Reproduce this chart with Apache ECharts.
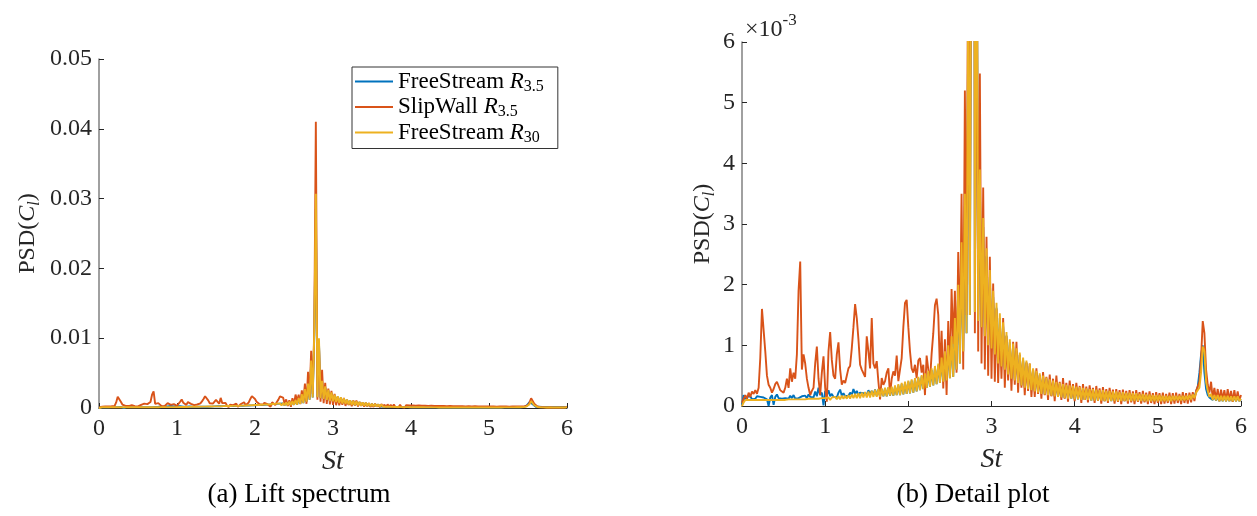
<!DOCTYPE html>
<html>
<head>
<meta charset="utf-8">
<title>PSD(Cl)</title>
<script src="https://cdn.jsdelivr.net/npm/echarts@6/dist/echarts.min.js"></script>
<style>
    html, body { margin: 0; padding: 0; background: #fff; }
    #echarts-psd-chart { width: 1257px; height: 516px; }
</style>
</head>
<body>
<div id="echarts-psd-chart"></div>
<script>
// Strouhal number grid (step 0.02)
var st = [
    0.00,0.02,0.04,0.06,0.08,0.10,0.12,0.14,0.16,0.18,
    0.20,0.22,0.24,0.26,0.28,0.30,0.32,0.34,0.36,0.38,
    0.40,0.42,0.44,0.46,0.48,0.50,0.52,0.54,0.56,0.58,
    0.60,0.62,0.64,0.66,0.68,0.70,0.72,0.74,0.76,0.78,
    0.80,0.82,0.84,0.86,0.88,0.90,0.92,0.94,0.96,0.98,
    1.00,1.02,1.04,1.06,1.08,1.10,1.12,1.14,1.16,1.18,
    1.20,1.22,1.24,1.26,1.28,1.30,1.32,1.34,1.36,1.38,
    1.40,1.42,1.44,1.46,1.48,1.50,1.52,1.54,1.56,1.58,
    1.60,1.62,1.64,1.66,1.68,1.70,1.72,1.74,1.76,1.78,
    1.80,1.82,1.84,1.86,1.88,1.90,1.92,1.94,1.96,1.98,
    2.00,2.02,2.04,2.06,2.08,2.10,2.12,2.14,2.16,2.18,
    2.20,2.22,2.24,2.26,2.28,2.30,2.32,2.34,2.36,2.38,
    2.40,2.42,2.44,2.46,2.48,2.50,2.52,2.54,2.56,2.58,
    2.60,2.62,2.64,2.66,2.68,2.70,2.72,2.74,2.76,2.78,
    2.80,2.82,2.84,2.86,2.88,2.90,2.92,2.94,2.96,2.98,
    3.00,3.02,3.04,3.06,3.08,3.10,3.12,3.14,3.16,3.18,
    3.20,3.22,3.24,3.26,3.28,3.30,3.32,3.34,3.36,3.38,
    3.40,3.42,3.44,3.46,3.48,3.50,3.52,3.54,3.56,3.58,
    3.60,3.62,3.64,3.66,3.68,3.70,3.72,3.74,3.76,3.78,
    3.80,3.82,3.84,3.86,3.88,3.90,3.92,3.94,3.96,3.98,
    4.00,4.02,4.04,4.06,4.08,4.10,4.12,4.14,4.16,4.18,
    4.20,4.22,4.24,4.26,4.28,4.30,4.32,4.34,4.36,4.38,
    4.40,4.42,4.44,4.46,4.48,4.50,4.52,4.54,4.56,4.58,
    4.60,4.62,4.64,4.66,4.68,4.70,4.72,4.74,4.76,4.78,
    4.80,4.82,4.84,4.86,4.88,4.90,4.92,4.94,4.96,4.98,
    5.00,5.02,5.04,5.06,5.08,5.10,5.12,5.14,5.16,5.18,
    5.20,5.22,5.24,5.26,5.28,5.30,5.32,5.34,5.36,5.38,
    5.40,5.42,5.44,5.46,5.48,5.50,5.52,5.54,5.56,5.58,
    5.60,5.62,5.64,5.66,5.68,5.70,5.72,5.74,5.76,5.78,
    5.80,5.82,5.84,5.86,5.88,5.90,5.92,5.94,5.96,5.98,
    6.00
];

// PSD(Cl), all values in units of 1e-3
var freeStream35 = [
    0.02,0.18,0.10,0.15,0.12,0.16,0.11,0.14,0.12,0.16,
    0.13,0.15,0.12,0.14,0.16,0.11,0.00,0.14,0.18,0.02,
    0.15,0.19,0.13,0.16,0.12,0.15,0.13,0.16,0.12,0.17,
    0.13,0.18,0.12,0.15,0.13,0.12,0.16,0.13,0.17,0.13,
    0.19,0.15,0.18,0.14,0.24,0.16,0.30,0.18,0.22,0.01,
    0.25,0.18,0.26,0.16,0.20,0.15,0.18,0.14,0.22,0.27,
    0.17,0.21,0.16,0.19,0.17,0.22,0.18,0.28,0.20,0.25,
    0.18,0.22,0.19,0.21,0.24,0.19,0.26,0.20,0.25,0.18,
    0.27,0.17,0.27,0.16,0.28,0.16,0.29,0.16,0.30,0.17,
    0.30,0.17,0.32,0.18,0.34,0.18,0.36,0.19,0.38,0.20,
    0.40,0.21,0.42,0.22,0.44,0.24,0.46,0.26,0.49,0.28,
    0.52,0.30,0.55,0.32,0.59,0.34,0.63,0.36,0.67,0.38,
    0.76,0.40,0.86,0.42,0.95,0.46,1.10,0.48,1.38,0.60,
    1.90,0.70,2.56,0.90,3.30,1.20,6.40,1.50,10.4,28.5,
    1.55,9.50,1.40,3.70,1.30,2.95,1.15,2.47,1.00,2.13,
    0.95,1.80,0.85,1.62,0.70,1.45,0.65,1.31,0.60,1.16,
    0.52,1.05,0.45,0.98,0.42,0.90,0.38,0.84,0.34,0.76,
    0.30,0.71,0.28,0.66,0.26,0.59,0.24,0.55,0.22,0.51,
    0.20,0.48,0.19,0.45,0.18,0.42,0.17,0.40,0.16,0.38,
    0.15,0.36,0.14,0.34,0.13,0.33,0.12,0.32,0.12,0.31,
    0.11,0.30,0.11,0.29,0.10,0.28,0.10,0.28,0.10,0.27,
    0.09,0.27,0.09,0.26,0.09,0.25,0.09,0.25,0.08,0.24,
    0.08,0.24,0.08,0.23,0.08,0.23,0.08,0.22,0.08,0.22,
    0.08,0.21,0.08,0.21,0.08,0.20,0.08,0.20,0.08,0.19,
    0.08,0.19,0.08,0.18,0.08,0.18,0.08,0.17,0.08,0.17,
    0.08,0.17,0.08,0.16,0.08,0.16,0.08,0.16,0.08,0.16,
    0.09,0.16,0.09,0.16,0.09,0.16,0.09,0.16,0.10,0.17,
    0.11,0.18,0.14,0.24,0.32,0.55,0.85,1.00,0.55,0.28,
    0.18,0.14,0.17,0.10,0.16,0.09,0.16,0.08,0.16,0.08,
    0.16,0.08,0.16,0.08,0.15,0.08,0.15,0.08,0.15,0.08,
    0.11
];

var slipWall35 = [
    0.05,0.12,0.18,0.12,0.22,0.15,0.24,0.20,0.26,0.20,
    0.30,0.80,1.60,1.62,0.90,0.50,0.35,0.30,0.22,0.28,
    0.36,0.40,0.33,0.26,0.24,0.22,0.30,0.45,0.30,0.62,
    0.40,0.55,0.45,0.85,1.90,2.38,0.60,0.85,0.70,0.45,
    0.30,0.18,0.25,0.30,0.70,0.98,0.45,0.18,0.55,0.82,
    0.30,0.07,0.90,1.22,0.76,0.50,0.45,0.85,1.05,0.60,
    0.35,0.42,0.38,0.50,0.62,0.66,0.95,1.30,1.68,1.45,
    1.10,0.68,0.60,0.62,0.48,1.15,0.90,0.62,1.45,0.70,
    0.62,0.74,0.40,0.11,0.46,0.35,0.41,0.55,0.62,0.18,
    0.45,0.57,0.50,0.83,0.41,0.60,0.79,1.30,1.70,1.75,
    1.30,0.90,0.62,0.55,0.68,0.46,0.75,0.79,0.55,0.68,
    0.18,0.83,0.60,0.41,0.86,1.20,1.66,1.77,1.50,0.60,
    1.24,0.29,1.10,0.18,1.40,0.50,1.93,1.02,1.90,0.55,
    2.54,1.00,3.50,0.60,5.20,1.50,8.20,2.00,11.5,41.0,
    1.20,9.20,0.90,5.48,0.70,3.60,0.60,2.79,0.50,2.46,
    0.45,2.02,0.40,1.60,0.38,1.27,0.45,1.45,0.30,1.15,
    0.42,1.00,0.25,1.06,0.35,1.06,0.22,0.85,0.30,0.75,
    0.18,0.72,0.25,0.70,0.15,0.60,0.15,0.62,0.20,0.50,
    0.12,0.56,0.18,0.48,0.10,0.52,0.16,0.45,0.08,0.50,
    0.15,0.40,0.10,0.46,0.12,0.38,0.07,0.42,0.14,0.36,
    0.08,0.38,0.12,0.33,0.05,0.36,0.10,0.32,0.06,0.34,
    0.12,0.30,0.05,0.33,0.09,0.29,0.04,0.31,0.08,0.28,
    0.05,0.30,0.10,0.27,0.04,0.28,0.07,0.26,0.03,0.27,
    0.08,0.25,0.04,0.26,0.06,0.24,0.03,0.26,0.07,0.23,
    0.04,0.25,0.06,0.22,0.03,0.24,0.05,0.21,0.03,0.23,
    0.05,0.21,0.03,0.22,0.04,0.20,0.05,0.22,0.03,0.21,
    0.04,0.22,0.05,0.20,0.03,0.23,0.05,0.21,0.04,0.22,
    0.06,0.23,0.08,0.25,0.25,0.40,0.80,1.40,1.20,0.60,
    0.35,0.22,0.40,0.12,0.30,0.10,0.28,0.08,0.27,0.10,
    0.26,0.08,0.28,0.09,0.25,0.07,0.26,0.08,0.24,0.09,
    0.18
];

var freeStream30 = [
    0.00,0.06,0.10,0.08,0.10,0.08,0.10,0.08,0.10,0.08,
    0.10,0.08,0.10,0.08,0.10,0.08,0.10,0.08,0.10,0.08,
    0.10,0.08,0.10,0.08,0.10,0.08,0.10,0.09,0.11,0.09,
    0.11,0.09,0.11,0.09,0.11,0.09,0.11,0.09,0.11,0.09,
    0.12,0.09,0.12,0.10,0.12,0.10,0.12,0.10,0.13,0.10,
    0.13,0.10,0.14,0.10,0.14,0.11,0.15,0.11,0.16,0.11,
    0.17,0.12,0.17,0.12,0.18,0.12,0.19,0.13,0.20,0.13,
    0.21,0.13,0.22,0.14,0.23,0.14,0.24,0.14,0.25,0.15,
    0.27,0.15,0.28,0.15,0.29,0.16,0.30,0.16,0.31,0.17,
    0.32,0.17,0.34,0.18,0.36,0.18,0.38,0.19,0.40,0.20,
    0.42,0.21,0.44,0.22,0.46,0.24,0.48,0.26,0.51,0.28,
    0.54,0.30,0.58,0.32,0.62,0.34,0.66,0.36,0.70,0.38,
    0.80,0.40,0.90,0.42,1.00,0.46,1.15,0.48,1.45,0.60,
    2.00,0.70,2.70,0.90,3.50,1.20,6.80,1.50,11.0,30.7,
    1.55,10.0,1.40,3.90,1.30,3.10,1.15,2.60,1.00,2.24,
    0.95,1.90,0.85,1.70,0.70,1.53,0.65,1.38,0.60,1.22,
    0.52,1.10,0.45,1.03,0.42,0.95,0.38,0.88,0.34,0.80,
    0.30,0.75,0.28,0.70,0.26,0.62,0.24,0.58,0.22,0.54,
    0.20,0.50,0.19,0.47,0.18,0.44,0.17,0.42,0.16,0.40,
    0.15,0.38,0.14,0.36,0.13,0.35,0.12,0.34,0.12,0.33,
    0.11,0.32,0.11,0.31,0.10,0.30,0.10,0.29,0.10,0.28,
    0.09,0.28,0.09,0.27,0.09,0.26,0.09,0.26,0.08,0.25,
    0.08,0.25,0.08,0.24,0.08,0.24,0.08,0.23,0.08,0.23,
    0.08,0.22,0.08,0.22,0.08,0.21,0.08,0.21,0.08,0.20,
    0.08,0.20,0.08,0.19,0.08,0.19,0.08,0.18,0.08,0.18,
    0.08,0.18,0.08,0.17,0.08,0.17,0.08,0.17,0.08,0.17,
    0.09,0.17,0.09,0.17,0.09,0.17,0.09,0.17,0.10,0.18,
    0.11,0.19,0.13,0.22,0.20,0.30,0.55,0.98,0.90,0.40,
    0.25,0.15,0.20,0.10,0.18,0.09,0.18,0.08,0.17,0.08,
    0.17,0.08,0.17,0.08,0.16,0.08,0.16,0.08,0.16,0.08,
    0.12
];

var seriesNames = ['FreeStream R3.5', 'SlipWall R3.5', 'FreeStream R30'];
var legendLabels = ['{t|FreeStream }{i|R}{s|3.5}', '{t|SlipWall }{i|R}{s|3.5}', '{t|FreeStream }{i|R}{s|30}'];
var seriesColors = ['#0072BD', '#D95319', '#EDB120'];
var captions = ['(a) Lift spectrum', '(b) Detail plot'];
var yMax = [50, 6];   // in 1e-3
var yStep = [10, 1];

var serif = 'Liberation Serif';
var ink = '#262626';

var mathRich = {
    t: {fontFamily: serif, fontSize: 24, lineHeight: 30, color: ink},
    i: {fontFamily: serif, fontSize: 24, lineHeight: 30, fontStyle: 'italic', color: ink},
    s: {fontFamily: serif, fontSize: 16, lineHeight: 16, fontStyle: 'italic', verticalAlign: 'bottom', color: ink}
};

function pairs(values) {
    return st.map(function (s, i) { return [s, values[i]]; });
}

function buildSeries(idx) {
    return [freeStream35, slipWall35, freeStream30].map(function (values, k) {
        return {
            name: seriesNames[k],
            type: 'line',
            xAxisIndex: idx,
            yAxisIndex: idx,
            data: pairs(values),
            symbol: 'none',
            clip: true,
            lineStyle: {width: 1.9, color: seriesColors[k]},
            itemStyle: {color: seriesColors[k]},
            emphasis: {disabled: true}
        };
    });
}

function xAxisFor(idx) {
    return {
        type: 'value',
        gridIndex: idx,
        min: 0, max: 6, interval: 1,
        name: 'St',
        nameLocation: 'middle',
        nameGap: 40,
        nameTextStyle: {fontFamily: serif, fontSize: 28, fontStyle: 'italic', color: ink},
        axisLine: {show: true, onZero: false, lineStyle: {color: ink, width: 1}},
        axisTick: {show: true, inside: true, length: 5, lineStyle: {color: ink}},
        axisLabel: {fontFamily: serif, fontSize: 24, color: ink, margin: 9},
        splitLine: {show: false}
    };
}

function yAxisFor(idx) {
    return {
        type: 'value',
        gridIndex: idx,
        min: 0, max: yMax[idx], interval: yStep[idx],
        name: '{t|PSD(}{i|C}{s|l}{t|)}',
        nameLocation: 'middle',
        nameGap: idx === 0 ? 56 : 24,
        nameTextStyle: {rich: mathRich},
        axisLine: {show: true, lineStyle: {color: '#808080', width: 1.5}},
        axisTick: {show: true, inside: true, length: 5, lineStyle: {color: ink}},
        axisLabel: {
            fontFamily: serif, fontSize: 24, color: ink, margin: 7,
            formatter: function (v) { return idx === 0 ? String(v / 1000) : String(v); }
        },
        splitLine: {show: false}
    };
}

var psdChart = echarts.init(document.getElementById('echarts-psd-chart'));
var psdOption = {
    backgroundColor: '#fff',
    animation: false,
    title: [
        {text: captions[0], left: 294, top: 476, textAlign: 'center',
            textStyle: {fontFamily: serif, fontSize: 27, fontWeight: 'normal', color: '#000'}},
        {text: captions[1], left: 968, top: 476, textAlign: 'center',
            textStyle: {fontFamily: serif, fontSize: 27, fontWeight: 'normal', color: '#000'}}
    ],
    legend: {
        data: seriesNames,
        orient: 'vertical',
        left: 352,
        top: 67,
        selectedMode: false,
        icon: 'rect',
        itemWidth: 38,
        itemHeight: 2,
        itemGap: 1,
        padding: [3, 14, 3, 3],
        borderColor: '#333',
        borderWidth: 1,
        backgroundColor: '#fff',
        formatter: function (name) { return legendLabels[seriesNames.indexOf(name)]; },
        textStyle: {
            rich: {
                t: {fontFamily: serif, fontSize: 23, lineHeight: 26, color: '#000'},
                i: {fontFamily: serif, fontSize: 23, lineHeight: 26, fontStyle: 'italic', color: '#000'},
                s: {fontFamily: serif, fontSize: 16, lineHeight: 14, verticalAlign: 'bottom', color: '#000'}
            }
        }
    },
    graphic: [{
        type: 'text',
        left: 745,
        top: 12,
        style: {
            text: '{a|×10}{b|-3}',
            rich: {
                a: {fontFamily: serif, fontSize: 24, lineHeight: 30, verticalAlign: 'bottom', fill: ink},
                b: {fontFamily: serif, fontSize: 17, lineHeight: 17, verticalAlign: 'top', fill: ink}
            }
        }
    }],
    grid: [
        {left: 99, top: 59, width: 468, height: 349},
        {left: 742, top: 42, width: 499, height: 364}
    ],
    xAxis: [xAxisFor(0), xAxisFor(1)],
    yAxis: [yAxisFor(0), yAxisFor(1)],
    series: buildSeries(0).concat(buildSeries(1))
};
psdChart.setOption(psdOption);
window.addEventListener('resize', psdChart.resize);
</script>
</body>
</html>
